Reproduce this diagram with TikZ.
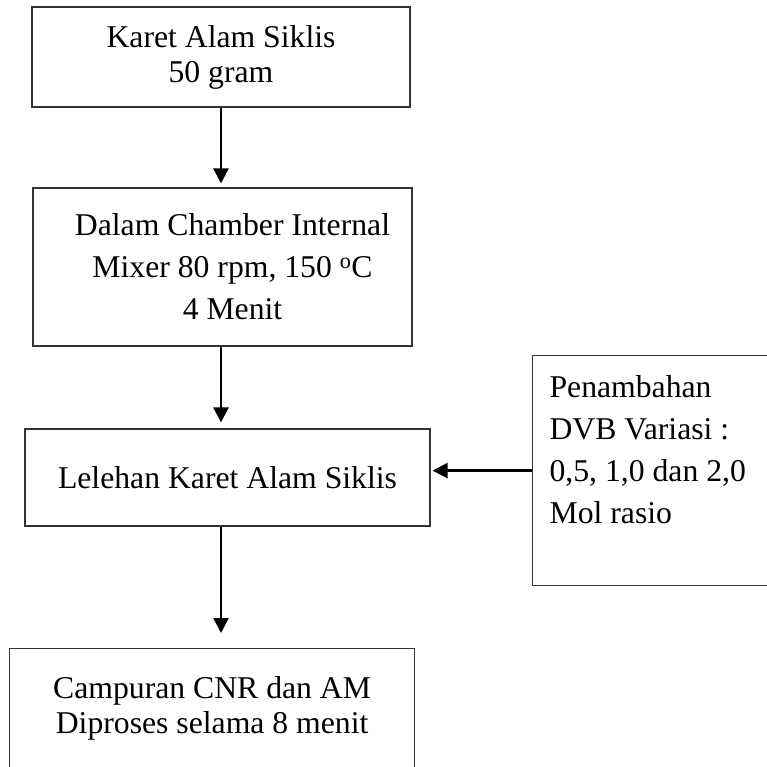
\documentclass[tikz,border=0pt]{standalone}
\usepackage{fontspec}
\setmainfont{Liberation Serif}
\usetikzlibrary{arrows.meta}

\begin{document}
\begin{tikzpicture}[x=1pt, y=-1pt, >={Triangle[length=15pt, width=15pt]},
  kotak/.style={draw=black!80, line width=1.2pt, inner sep=0pt, align=center,
                font=\fontsize{31.7}{42}\selectfont},
  rapat/.style={font=\fontsize{31.7}{35}\selectfont},
  alur/.style={->, line width=2.6pt}]
  \useasboundingbox (0,0) rectangle (766,767);
  \node[kotak, rapat, minimum width=378pt, minimum height=100pt] (kas) at (221,57)
        {Karet Alam Siklis\\50 gram};
  \node[kotak, minimum width=379pt, minimum height=158pt] (chamber) at (222.5,267)
        {\hspace*{20pt}Dalam Chamber Internal\\\hspace*{20pt}Mixer 80 rpm, 150 \textsuperscript{o}C\\\hspace*{20pt}4 Menit};
  \node[kotak, minimum width=405pt, minimum height=97pt] (leleh) at (227.5,477.5)
        {Lelehan Karet Alam Siklis};
  \node[kotak, anchor=north west, minimum height=230pt, inner xsep=17pt,
        text width=236pt, align=flush left] (dvb) at (532,355)
        {Penambahan\\DVB Variasi :\\0,5, 1,0 dan 2,0\\Mol rasio\\\mbox{}};
  \node[kotak, rapat, anchor=north west, minimum width=405pt, minimum height=120pt] (campur) at (9,648)
        {Campuran CNR dan AM\\Diproses selama 8 menit};
  % arrows, all on one vertical line
  \draw[alur, shorten >=4pt] (kas.south) -- (kas.south |- chamber.north);
  \draw[alur, shorten >=6pt] (chamber.south -| kas.south) -- (kas.south |- leleh.north);
  \draw[alur, shorten >=15pt] (leleh.south -| kas.south) -- (kas.south |- campur.north);
  \draw[alur, shorten >=2pt] (dvb.west) -- (dvb.west -| leleh.east);
\end{tikzpicture}
\end{document}
